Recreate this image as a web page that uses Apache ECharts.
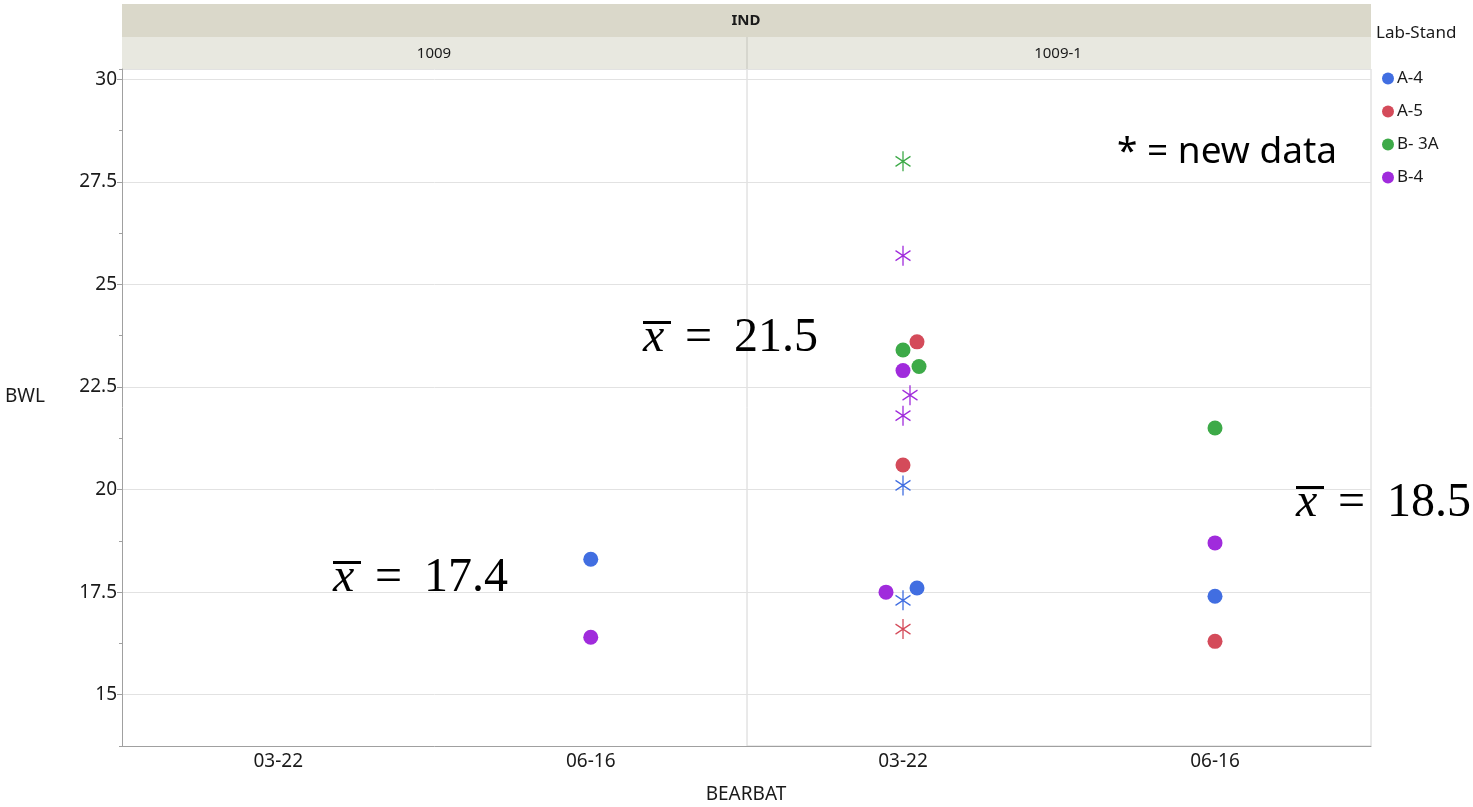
<!DOCTYPE html>
<html><head><meta charset="utf-8">
<script src="https://cdn.jsdelivr.net/npm/echarts@6/dist/echarts.min.js"></script>
<style>html,body{margin:0;padding:0;background:#fff}#c{width:1473px;height:807px}</style>
</head><body><div id="c"></div>
<script>
// ---------- data ----------
const panels = ['1009', '1009-1'];
const dates = ['03-22', '06-16'];
const labs = ['A-4', 'A-5', 'B- 3A', 'B-4'];
const yMin = 13.75, yMax = 30.25, yStep = 2.5;
// [panel, date, lab, BWL, isNew]
const points = [
  ['1009',   '06-16', 'A-4',   18.3, 0],
  ['1009',   '06-16', 'B-4',   16.4, 0],
  ['1009-1', '03-22', 'A-5',   23.6, 0],
  ['1009-1', '03-22', 'B- 3A', 23.4, 0],
  ['1009-1', '03-22', 'B- 3A', 23.0, 0],
  ['1009-1', '03-22', 'B-4',   22.9, 0],
  ['1009-1', '03-22', 'A-5',   20.6, 0],
  ['1009-1', '03-22', 'B-4',   17.5, 0],
  ['1009-1', '03-22', 'A-4',   17.6, 0],
  ['1009-1', '03-22', 'B- 3A', 28.0, 1],
  ['1009-1', '03-22', 'B-4',   25.7, 1],
  ['1009-1', '03-22', 'B-4',   22.3, 1],
  ['1009-1', '03-22', 'B-4',   21.8, 1],
  ['1009-1', '03-22', 'A-4',   20.1, 1],
  ['1009-1', '03-22', 'A-4',   17.3, 1],
  ['1009-1', '03-22', 'A-5',   16.6, 1],
  ['1009-1', '06-16', 'B- 3A', 21.5, 0],
  ['1009-1', '06-16', 'B-4',   18.7, 0],
  ['1009-1', '06-16', 'A-4',   17.4, 0],
  ['1009-1', '06-16', 'A-5',   16.3, 0]
];
const means = [17.4, 21.5, 18.5];

// ---------- layout / style ----------
const jitterPx = [0, 0, 14, 0, 16, 0, 0, -17, 14, 0, 0, 7, 0, 0, 0, 0, 0, 0, 0, 0];
const colors = {'A-4': '#416EE1', 'A-5': '#D44B5A', 'B- 3A': '#3DAA48', 'B-4': '#A02BDC'};
const starPath = 'path://M0,-10L0,10M-8.66,-5L8.66,5M-8.66,5L8.66,-5';
const FONT = 'Noto Sans';
const SERIF = 'Liberation Serif';
const annotPos = [[333, 578], [643, 338], [1296, 503]];

const grids = [
  {left: 122, top: 69, width: 625, height: 677},
  {left: 747, top: 69, width: 624, height: 677, show: true, borderColor: '#D4D4D4', borderWidth: 1}
];

const xAxes = panels.map((p, i) => ({
  type: 'category', gridIndex: i, data: dates, boundaryGap: true,
  axisLine: {show: true, lineStyle: {color: '#A0A0A0'}},
  axisTick: {show: false},
  axisLabel: {fontFamily: FONT, fontSize: 19, color: '#1a1a1a', margin: 6},
  splitLine: {show: false}
}));

function mainY(gi, showLabels) {
  return {
    type: 'value', gridIndex: gi, min: yMin, max: yMax, minInterval: yStep, maxInterval: yStep, splitNumber: 7,
    position: 'left',
    axisLine: {show: showLabels, lineStyle: {color: '#A0A0A0'}},
    axisTick: {show: showLabels, length: 5, lineStyle: {color: '#A0A0A0'}},
    axisLabel: {show: showLabels, showMinLabel: false, showMaxLabel: false, fontFamily: FONT, fontSize: 19, color: '#1a1a1a', margin: 5},
    splitLine: {show: true, lineStyle: {color: '#E2E2E2', width: 1}}
  };
}
const yAxes = [
  mainY(0, true),
  {type: 'value', gridIndex: 0, min: yMin, max: yMax, interval: yStep / 2, position: 'left',
   axisLine: {show: false}, axisTick: {show: true, length: 3, lineStyle: {color: '#A0A0A0'}},
   axisLabel: {show: false}, splitLine: {show: false}},
  mainY(1, false)
];

const series = [];
panels.forEach((p, pi) => {
  labs.forEach(lab => {
    [0, 1].forEach(isNew => {
      const data = [];
      points.forEach((pt, k) => {
        if (pt[0] === p && pt[2] === lab && pt[4] === isNew) {
          data.push({value: [pt[1], pt[3]], symbolOffset: [jitterPx[k], 0]});
        }
      });
      if (!data.length) return;
      series.push({
        type: 'scatter', name: lab, xAxisIndex: pi, yAxisIndex: pi === 0 ? 0 : 2,
        data: data,
        symbol: isNew ? starPath : 'circle',
        symbolSize: isNew ? [17.3, 20] : 15,
        symbolKeepAspect: true,
        itemStyle: isNew
          ? {color: colors[lab], borderColor: colors[lab], borderWidth: 1.4, opacity: 1}
          : {color: colors[lab], opacity: 1},
        emphasis: {disabled: true},
        z: 3
      });
    });
  });
});

function annot(pos, val) {
  return {
    type: 'group', x: pos[0], y: pos[1], silent: true,
    children: [
      {type: 'text', x: 0, y: 0, style: {text: 'x', font: 'italic 48px "' + SERIF + '"', fill: '#000', verticalAlign: 'middle', align: 'left'}},
      {type: 'rect', shape: {x: 0, y: -17, width: 28, height: 3}, style: {fill: '#000'}},
      {type: 'text', x: 42, y: 0, style: {text: '=', font: '48px "' + SERIF + '"', fill: '#000', verticalAlign: 'middle', align: 'left'}},
      {type: 'text', x: 91, y: 0, style: {text: val.toFixed(1), font: '48px "' + SERIF + '"', fill: '#000', verticalAlign: 'middle', align: 'left'}}
    ]
  };
}

const graphic = [
  {type: 'rect', shape: {x: 122, y: 4, width: 1249, height: 33}, style: {fill: '#DAD8CA'}, silent: true},
  {type: 'rect', shape: {x: 122, y: 37, width: 1249, height: 32}, style: {fill: '#E8E8E0'}, silent: true},
  {type: 'line', shape: {x1: 747, y1: 37, x2: 747, y2: 69}, style: {stroke: '#D6D6CE', lineWidth: 2}, silent: true},
  {type: 'text', x: 746, y: 21, style: {text: 'IND', font: 'bold 15px "' + FONT + '"', fill: '#1a1a1a', align: 'center', verticalAlign: 'middle'}},
  {type: 'text', x: 434, y: 54, style: {text: panels[0], font: '15px "' + FONT + '"', fill: '#1a1a1a', align: 'center', verticalAlign: 'middle'}},
  {type: 'text', x: 1058, y: 54, style: {text: panels[1], font: '15px "' + FONT + '"', fill: '#1a1a1a', align: 'center', verticalAlign: 'middle'}},
  {type: 'text', x: 5, y: 397, style: {text: 'BWL', font: '19px "' + FONT + '"', fill: '#1a1a1a', align: 'left', verticalAlign: 'middle'}},
  {type: 'text', x: 746, y: 795, style: {text: 'BEARBAT', font: '19px "' + FONT + '"', fill: '#1a1a1a', align: 'center', verticalAlign: 'middle'}},
  {type: 'text', x: 1376, y: 33, style: {text: 'Lab-Stand', font: '17px "' + FONT + '"', fill: '#1a1a1a', align: 'left', verticalAlign: 'middle'}},
  {type: 'text', x: 1117, y: 152, style: {text: '* = new data', font: '37px "' + FONT + '"', fill: '#000', align: 'left', verticalAlign: 'middle'}},
  annot(annotPos[0], means[0]),
  annot(annotPos[1], means[1]),
  annot(annotPos[2], means[2])
];

const chart = echarts.init(document.getElementById('c'), null, {renderer: 'canvas'});
chart.setOption({
  animation: false,
  backgroundColor: '#fff',
  grid: grids,
  xAxis: xAxes,
  yAxis: yAxes,
  legend: {
    data: labs.map(l => ({name: l, icon: 'circle'})),
    orient: 'vertical', left: 1377, top: 65,
    itemWidth: 12, itemHeight: 12, itemGap: 16,
    textStyle: {fontFamily: FONT, fontSize: 17, color: '#1a1a1a', padding: [0, 0, 0, -2]},
    selectedMode: false
  },
  series: series,
  graphic: graphic
});
</script>
</body></html>
